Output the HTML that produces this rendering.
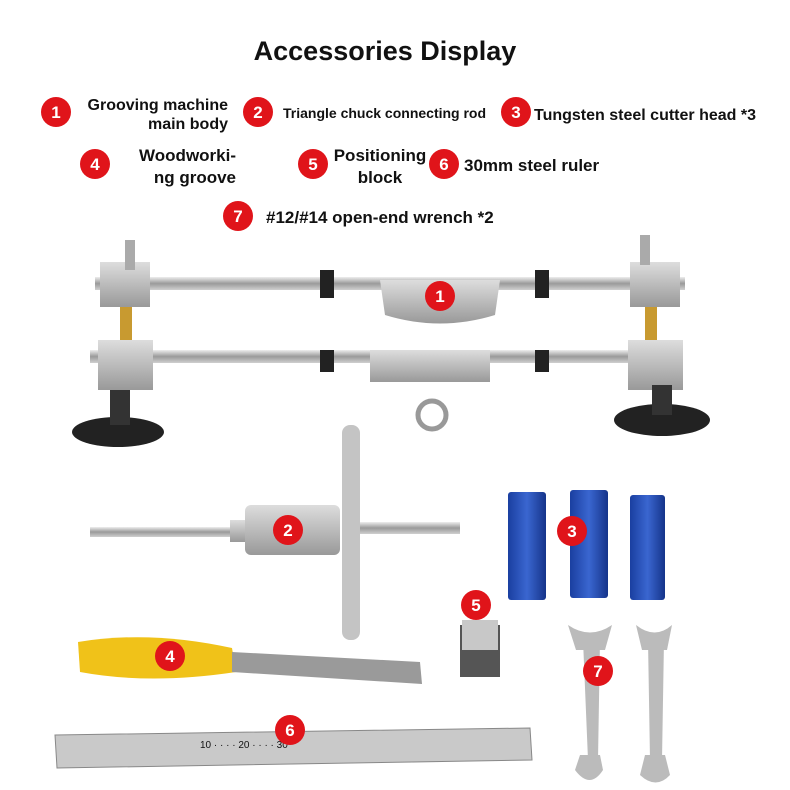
<!DOCTYPE html>
<html><head><style>
body{margin:0;background:#fff}
svg{display:block}
text{font-family:"Liberation Sans Narrow","Liberation Sans",sans-serif;fill:#111}
.n{fill:#fff;font-weight:bold;font-size:17px;text-anchor:middle}
</style></head><body>
<svg width="790" height="790" viewBox="0 0 790 790" xmlns="http://www.w3.org/2000/svg">
<defs>
<linearGradient id="rod" x1="0" y1="0" x2="0" y2="1"><stop offset="0" stop-color="#eee"/><stop offset=".5" stop-color="#9a9a9a"/><stop offset="1" stop-color="#cfcfcf"/></linearGradient>
<linearGradient id="met" x1="0" y1="0" x2="0" y2="1"><stop offset="0" stop-color="#ddd"/><stop offset="1" stop-color="#999"/></linearGradient>
<linearGradient id="blu" x1="0" y1="0" x2="1" y2="0"><stop offset="0" stop-color="#1a3fa0"/><stop offset=".5" stop-color="#3a66d0"/><stop offset="1" stop-color="#15348a"/></linearGradient>
</defs>
<text x="385" y="60" text-anchor="middle" style="font-family:'Liberation Sans',sans-serif;font-weight:bold;font-size:27px">Accessories Display</text>
<g>
<circle cx="56" cy="112" r="15" fill="#e0141a"/><text class="n" x="56" y="118">1</text>
<text x="228" y="110" text-anchor="end" font-size="16" font-weight="bold">Grooving machine</text>
<text x="228" y="129" text-anchor="end" font-size="16" font-weight="bold">main body</text>
<circle cx="258" cy="112" r="15" fill="#e0141a"/><text class="n" x="258" y="118">2</text>
<text x="283" y="118" font-size="14" font-weight="bold">Triangle chuck connecting rod</text>
<circle cx="516" cy="112" r="15" fill="#e0141a"/><text class="n" x="516" y="118">3</text>
<text x="534" y="120" font-size="16" font-weight="bold">Tungsten steel cutter head *3</text>
<circle cx="95" cy="164" r="15" fill="#e0141a"/><text class="n" x="95" y="170">4</text>
<text x="236" y="161" text-anchor="end" font-size="17" font-weight="bold">Woodworki-</text>
<text x="236" y="183" text-anchor="end" font-size="17" font-weight="bold">ng groove</text>
<circle cx="313" cy="164" r="15" fill="#e0141a"/><text class="n" x="313" y="170">5</text>
<text x="380" y="161" text-anchor="middle" font-size="17" font-weight="bold">Positioning</text>
<text x="380" y="183" text-anchor="middle" font-size="17" font-weight="bold">block</text>
<circle cx="444" cy="164" r="15" fill="#e0141a"/><text class="n" x="444" y="170">6</text>
<text x="464" y="171" font-size="17" font-weight="bold">30mm steel ruler</text>
<circle cx="238" cy="216" r="15" fill="#e0141a"/><text class="n" x="238" y="222">7</text>
<text x="266" y="223" font-size="17" font-weight="bold">#12/#14 open-end wrench *2</text>
</g>
<!-- machine -->
<rect x="95" y="277" width="590" height="13" fill="url(#rod)"/>
<rect x="90" y="350" width="590" height="13" fill="url(#rod)"/>
<rect x="120" y="300" width="12" height="50" fill="#c89a30"/>
<rect x="645" y="300" width="12" height="50" fill="#c89a30"/>
<rect x="100" y="262" width="50" height="45" fill="url(#met)"/>
<rect x="630" y="262" width="50" height="45" fill="url(#met)"/>
<rect x="125" y="240" width="10" height="30" fill="#aaa"/>
<rect x="640" y="235" width="10" height="30" fill="#aaa"/>
<rect x="98" y="340" width="55" height="50" fill="url(#met)"/>
<rect x="628" y="340" width="55" height="50" fill="url(#met)"/>
<path d="M380 280 L500 280 L495 315 Q440 332 385 315 Z" fill="url(#met)"/>
<rect x="370" y="350" width="120" height="32" fill="url(#met)"/>
<circle cx="432" cy="415" r="14" fill="none" stroke="#999" stroke-width="5"/>
<rect x="320" y="270" width="14" height="28" fill="#222"/><rect x="535" y="270" width="14" height="28" fill="#222"/>
<rect x="320" y="350" width="14" height="22" fill="#222"/><rect x="535" y="350" width="14" height="22" fill="#222"/>
<ellipse cx="118" cy="432" rx="46" ry="15" fill="#222"/><rect x="110" y="390" width="20" height="35" fill="#333"/>
<ellipse cx="662" cy="420" rx="48" ry="16" fill="#222"/><rect x="652" y="385" width="20" height="30" fill="#333"/>
<circle cx="440" cy="296" r="15" fill="#e0141a"/><text class="n" x="440" y="302">1</text>
<!-- rod 2 -->
<rect x="90" y="527" width="140" height="10" fill="url(#rod)"/>
<rect x="230" y="520" width="30" height="22" fill="url(#met)"/>
<rect x="245" y="505" width="95" height="50" rx="6" fill="url(#met)"/>
<rect x="342" y="425" width="18" height="215" rx="8" fill="#c4c4c4"/>
<rect x="360" y="522" width="100" height="12" fill="url(#rod)"/>
<circle cx="288" cy="530" r="15" fill="#e0141a"/><text class="n" x="288" y="536">2</text>
<!-- blocks 3 -->
<rect x="508" y="492" width="38" height="108" rx="3" fill="url(#blu)"/>
<rect x="570" y="490" width="38" height="108" rx="3" fill="url(#blu)"/>
<rect x="630" y="495" width="35" height="105" rx="3" fill="url(#blu)"/>
<circle cx="572" cy="531" r="15" fill="#e0141a"/><text class="n" x="572" y="537">3</text>
<!-- 5 -->
<rect x="460" y="625" width="40" height="52" fill="#555"/><rect x="462" y="620" width="36" height="30" fill="#c8c8c8"/>
<circle cx="476" cy="605" r="15" fill="#e0141a"/><text class="n" x="476" y="611">5</text>
<!-- chisel 4 -->
<path d="M78 642 Q150 630 232 648 L236 672 Q150 685 80 672 Z" fill="#f0c219"/>
<path d="M232 652 L420 662 L422 684 L232 672 Z" fill="#9a9a9a"/>
<circle cx="170" cy="656" r="15" fill="#e0141a"/><text class="n" x="170" y="662">4</text>
<!-- ruler 6 -->
<path d="M55 735 L530 728 L532 760 L57 768 Z" fill="#c9c9c9" stroke="#888"/>
<text x="200" y="748" font-size="10" fill="#444">10 · · · · 20 · · · · 30</text>
<circle cx="290" cy="730" r="15" fill="#e0141a"/><text class="n" x="290" y="736">6</text>
<!-- wrenches 7 -->
<path d="M583 640 L600 640 L598 760 L588 760 Z" fill="#bbb"/>
<path d="M568 625 Q590 640 612 625 L605 650 L576 650 Z" fill="#bbb"/>
<path d="M575 770 Q590 790 603 770 L600 755 L580 755 Z" fill="#bbb"/>
<path d="M648 640 L664 640 L662 760 L650 760 Z" fill="#bbb"/>
<path d="M636 625 Q655 640 672 625 L667 650 L642 650 Z" fill="#bbb"/>
<path d="M640 775 Q656 790 670 775 L665 755 L645 755 Z" fill="#bbb"/>
<circle cx="598" cy="671" r="15" fill="#e0141a"/><text class="n" x="598" y="677">7</text>
</svg>
</body></html>
